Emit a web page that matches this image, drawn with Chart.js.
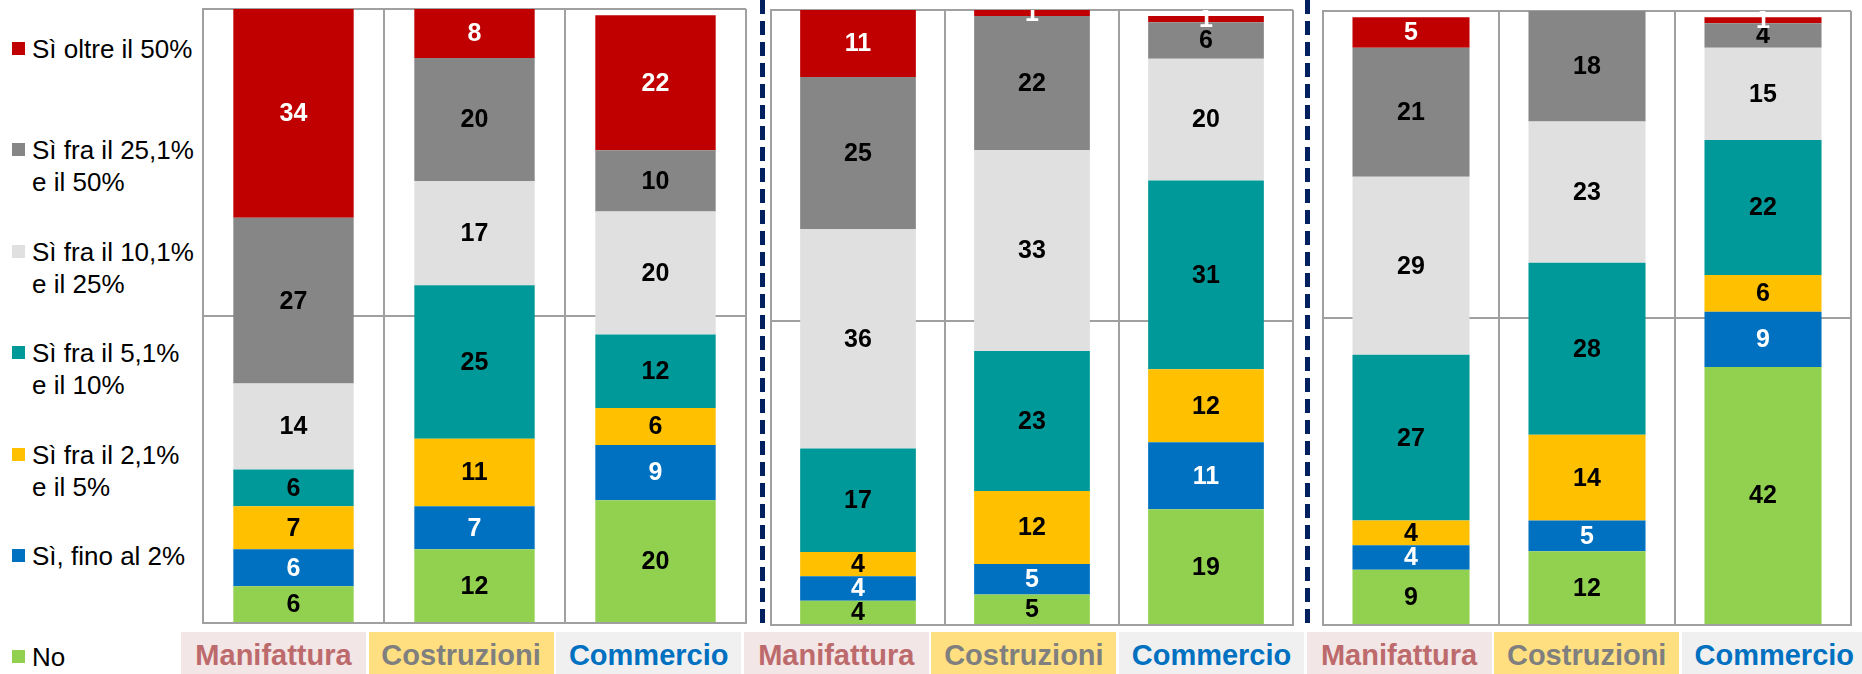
<!DOCTYPE html>
<html lang="it">
<head>
<meta charset="utf-8">
<title>Quota di fatturato</title>
<script src="https://cdn.jsdelivr.net/npm/chart.js@4/dist/chart.umd.min.js"></script>
<style>
  body{margin:0;width:1862px;height:674px;position:relative;overflow:hidden;background:#fff;
       font-family:"Liberation Sans",Arial,sans-serif}
  canvas{position:absolute}
  .leg{position:absolute;left:32px;font-size:26px;line-height:32px;color:#000;white-space:nowrap}
  .leg i{position:absolute;left:-20px;top:9px;width:13px;height:13px}
  .sep{position:absolute;top:0;width:5px;height:628px;
       background:repeating-linear-gradient(to bottom,#002060 0 14px,transparent 14px 21px)}
  .cat{position:absolute;top:632px;height:42px;width:185px;text-align:center;
       font-weight:bold;font-size:29px;line-height:47px;overflow:hidden}
</style>
</head>
<body>
<div id="legenda"></div>
<canvas id="g1" width="547" height="618" style="left:201px;top:7px"></canvas>
<canvas id="g2" width="526" height="619" style="left:769px;top:8px"></canvas>
<canvas id="g3" width="532" height="618" style="left:1321px;top:9px"></canvas>
<div class="sep" style="left:760px"></div>
<div class="sep" style="left:1305px"></div>
<div id="categorie"></div>

<script>
// tre gruppi da tre barre: Manifattura, Costruzioni, Commercio
const CATEGORIE = ["Manifattura", "Costruzioni", "Commercio"];

// valori, dal basso verso l'alto
const NO       = [6, 12, 20,   4, 5, 19,   9, 12, 42];
const FINO_2   = [6, 7, 9,     4, 5, 11,   4, 5, 9];
const DA_2_5   = [7, 11, 6,    4, 12, 12,  4, 14, 6];
const DA_5_10  = [6, 25, 12,   17, 23, 31, 27, 28, 22];
const DA_10_25 = [14, 17, 20,  36, 33, 20, 29, 23, 15];
const DA_25_50 = [27, 20, 10,  25, 22, 6,  21, 18, 4];
const OLTRE_50 = [34, 8, 22,   11, 1, 1,   5, null, 1];

const SERIE = ["No", "Sì, fino al 2%", "Sì fra il 2,1%\ne il 5%", "Sì fra il 5,1%\ne il 10%",
               "Sì fra il 10,1%\ne il 25%", "Sì fra il 25,1%\ne il 50%", "Sì oltre il 50%"];
const VALORI = [NO, FINO_2, DA_2_5, DA_5_10, DA_10_25, DA_25_50, OLTRE_50];
const COLORI = ["#92D050", "#0070C0", "#FFC000", "#009999", "#E0E0E0", "#868686", "#C00000"];
const TESTO  = ["#000", "#fff", "#000", "#000", "#000", "#000", "#fff"];
const MAX_Y  = [100, 101, 100];

const ETICHETTE_CAT = [
  { bg:"#F2E6E6", fg:"#BD6A6C" },
  { bg:"#FFDF80", fg:"#7F7F7F" },
  { bg:"#F0F0F0", fg:"#0070C0" },
];
const GRIGLIA = "#A0A0A0";

// legenda a sinistra, dall'alto
const leg = document.getElementById("legenda");
SERIE.slice().reverse().forEach((nome, k) => {
  const i = SERIE.length - 1 - k;
  const d = document.createElement("div");
  d.className = "leg";
  d.style.top = (33 + k*101.4) + "px";
  d.innerHTML = `<i style="background:${COLORI[i]}"></i>` + nome.replace("\n", "<br>");
  leg.appendChild(d);
});

// riga delle etichette sotto i grafici
const cat = document.getElementById("categorie");
for (let k = 0; k < 9; k++){
  const c = ETICHETTE_CAT[k % 3];
  const d = document.createElement("div");
  d.className = "cat";
  d.style.left = (181 + k*187.6) + "px";
  d.style.background = c.bg;
  d.style.color = c.fg;
  d.textContent = CATEGORIE[k % 3];
  cat.appendChild(d);
}

const etichette = {
  id: "etichette",
  afterDatasetsDraw(chart){
    const { ctx, chartArea: a } = chart;
    ctx.save();
    ctx.beginPath(); ctx.rect(a.left, a.top, a.right - a.left, a.bottom - a.top); ctx.clip();
    ctx.font = "bold 25px 'Liberation Sans', Arial, sans-serif";
    ctx.textAlign = "center"; ctx.textBaseline = "middle";
    chart.data.datasets.forEach((ds, i) => {
      chart.getDatasetMeta(i).data.forEach((bar, j) => {
        const v = ds.data[j];
        if (v == null) return;
        const p = bar.getCenterPoint();
        ctx.fillStyle = TESTO[i];
        ctx.fillText(String(v), p.x, p.y + 1);
      });
    });
    ctx.restore();
  }
};

function creaGrafico(id, g){
  const da = g*3, maxY = MAX_Y[g];
  const datasets = SERIE.map((nome, i) => ({
    label: nome,
    data: VALORI[i].slice(da, da + 3),
    backgroundColor: COLORI[i],
    borderWidth: 0,
    barPercentage: 0.665,
    categoryPercentage: 1,
  }));
  new Chart(document.getElementById(id), {
    type: "bar",
    data: { labels: CATEGORIE, datasets },
    options: {
      responsive: false, animation: false,
      layout: { padding: 2 },
      plugins: { legend: { display: false }, tooltip: { enabled: false } },
      scales: {
        x: { stacked: true, ticks: { display: false },
             grid: { color: GRIGLIA, lineWidth: 2, drawTicks: false },
             border: { color: GRIGLIA, width: 2 } },
        y: { stacked: true, min: 0, max: maxY, ticks: { display: false },
             grid: { color: GRIGLIA, lineWidth: 2, drawTicks: false },
             border: { color: GRIGLIA, width: 2 },
             afterBuildTicks: s => { s.ticks = [0, 50, maxY].map(value => ({ value })); } },
      },
    },
    plugins: [etichette],
  });
}

creaGrafico("g1", 0);
creaGrafico("g2", 1);
creaGrafico("g3", 2);
</script>
</body>
</html>
